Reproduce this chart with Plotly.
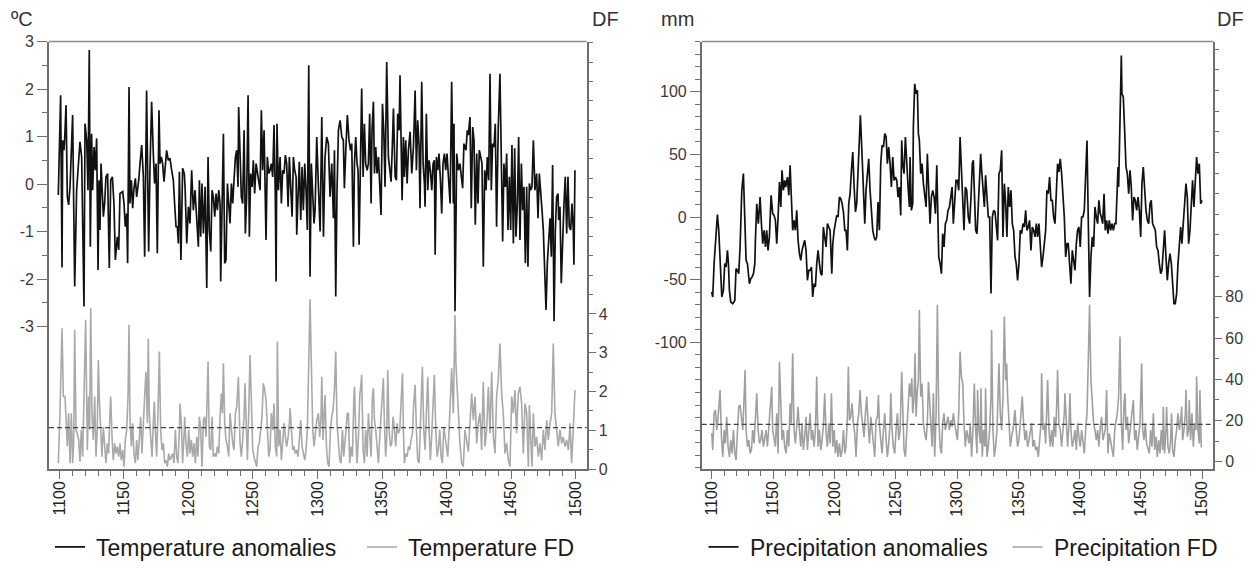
import plotly.graph_objects as go

# ---------------- data ----------------
temp_years = [
    1099.2,1101.0,1102.1,1102.6,1103.6,1104.1,1105.2,1106.2,1107.2,1108.3,
    1110.3,1111.9,1113.4,1114.7,1116.0,1117.3,1118.1,1119.1,1119.9,1121.2,
    1122.2,1123.2,1124.0,1125.0,1125.8,1126.9,1127.9,1128.9,1130.0,1130.7,
    1131.5,1132.3,1133.0,1134.1,1135.1,1136.1,1137.4,1138.7,1139.8,1141.1,
    1142.3,1143.4,1144.9,1146.0,1147.0,1149.1,1150.1,1151.1,1152.2,1152.9,
    1154.0,1154.7,1155.8,1156.8,1157.8,1158.9,1159.9,1161.5,1162.5,1163.8,
    1165.1,1166.1,1167.6,1168.7,1169.2,1170.2,1171.5,1172.8,1173.8,1174.9,
    1175.9,1177.2,1178.0,1179.0,1180.0,1181.1,1182.1,1183.1,1184.4,1185.7,
    1187.0,1188.3,1189.3,1190.4,1191.4,1192.2,1193.0,1194.2,1195.5,1196.8,
    1197.4,1198.7,1200.0,1201.2,1202.5,1203.8,1205.1,1206.4,1207.7,1208.5,
    1209.5,1210.5,1211.6,1212.9,1214.2,1215.2,1216.2,1217.3,1218.3,1219.3,
    1220.4,1221.4,1222.4,1223.5,1224.5,1225.0,1226.0,1227.1,1228.1,1229.1,
    1230.2,1231.2,1232.2,1233.3,1234.3,1235.3,1236.4,1237.4,1238.4,1238.9,
    1240.0,1241.0,1242.0,1243.1,1244.1,1245.1,1246.2,1247.2,1248.2,1249.3,
    1250.3,1251.3,1252.4,1253.4,1254.4,1255.5,1256.5,1257.5,1258.6,1259.6,
    1260.1,1261.1,1262.2,1263.2,1264.2,1265.3,1266.3,1267.3,1267.9,1268.6,
    1269.7,1271.0,1272.0,1273.0,1274.1,1275.1,1276.1,1277.2,1278.2,1279.2,
    1280.3,1281.3,1282.3,1283.4,1283.9,1284.9,1285.9,1287.0,1288.0,1289.0,
    1290.1,1291.1,1292.1,1293.2,1294.2,1295.2,1296.3,1297.3,
    1298.1,1299.4,1300.7,1302.0,1303.3,1304.6,1305.8,1307.1,1308.4,1309.7,
    1311.0,1312.3,1313.1,1314.1,1315.1,1316.2,1317.5,1318.8,1320.0,1320.8,
    1321.9,1323.1,1324.4,1325.5,1326.5,1327.8,1328.6,1329.6,1330.6,1331.4,
    1332.2,1333.0,1334.2,1335.3,1336.3,1337.3,1338.4,1339.4,1340.4,1341.5,
    1342.2,1343.3,1344.1,1345.1,1346.1,1347.2,1348.2,1349.2,1350.3,1351.3,
    1352.3,1353.6,1354.9,1355.9,1357.0,1358.0,1358.8,1360.1,1361.1,1362.1,
    1363.2,1363.9,1364.7,1365.5,1366.5,1367.3,1368.3,1369.4,1370.4,1371.7,
    1373.0,1374.3,1375.6,1376.6,1377.6,1378.7,1379.4,1380.7,1381.8,1382.8,
    1383.3,1384.3,1385.4,1386.4,1387.4,1388.5,1389.5,1390.5,1391.1,1392.1,
    1393.1,1394.1,1395.2,1396.2,1397.2,1398.3,1399.3,1400.3,1401.4,1402.7,
    1403.9,1405.2,1405.7,1406.5,1407.8,1409.1,1410.3,1411.6,1412.4,1413.4,
    1415.0,1416.0,1416.8,1418.1,1419.1,1420.2,1421.2,1422.2,1423.3,1424.3,
    1425.3,1426.4,1427.4,1428.4,1429.5,1430.5,1431.5,1432.6,1433.6,1434.6,
    1435.6,1436.7,1437.7,1438.7,1440.0,1441.3,1442.4,1443.4,1444.4,1445.5,
    1446.5,1447.5,1448.6,1449.6,1450.6,1451.7,1452.7,1453.7,1454.8,1455.8,
    1456.8,1457.9,1458.9,1459.9,1461.0,1462.0,1463.0,1464.1,1465.1,1466.1,
    1467.2,1468.4,1469.7,1470.8,1471.8,1472.8,1473.9,1474.9,1475.9,1477.0,
    1478.0,1479.0,1480.1,1481.1,1482.1,1483.2,1484.2,1485.2,1486.3,1486.8,
    1487.8,1488.8,1489.9,1490.9,1491.9,1493.0,1494.0,1495.0,1496.1,1497.1,
    1498.1,1498.6,1499.4,
]
temp_anom = [
    -0.23,1.87,-1.76,0.92,0.71,0.92,1.66,-0.27,-0.44,-0.06,
    1.45,-2.16,-0.13,0.43,0.89,0.57,-0.90,-2.58,1.27,0.92,
    -0.13,2.82,-1.32,1.06,-0.13,0.78,0.29,0.96,-1.81,0.08,
    -0.97,0.43,0.01,-0.69,-0.41,0.15,0.22,-1.77,0.08,0.15,
    -0.41,-1.60,-1.11,-1.39,-0.20,-0.16,-0.41,-0.90,-0.62,-1.67,
    2.04,-0.41,0.08,-0.51,-0.09,0.12,-0.27,0.08,0.43,0.82,
    0.15,-1.53,1.97,-0.27,-1.42,0.29,1.73,0.64,0.01,0.43,
    -1.46,1.55,0.43,0.57,0.43,0.05,0.50,0.71,0.50,0.54,
    0.29,0.08,-0.41,-0.90,-0.90,-1.25,0.26,-1.60,0.33,0.22,
    -0.06,-1.25,-0.48,-0.83,0.29,-0.55,-0.13,-0.69,-1.32,0.08,
    -1.11,0.01,-1.04,-0.06,-2.19,0.57,-0.97,-1.42,-0.13,-0.27,
    -0.69,-0.20,-0.55,-0.13,-0.41,-2.05,-0.06,1.06,-1.67,-1.60,
    0.01,-0.55,-0.83,0.01,-0.41,0.08,0.57,0.71,-0.06,1.62,
    0.57,-0.27,-0.41,1.13,-1.04,-0.27,1.87,-1.11,0.22,-0.06,
    0.50,-0.20,0.43,0.22,0.01,-0.13,1.55,0.29,1.13,-0.27,
    -1.18,0.57,0.22,0.29,0.43,0.15,1.24,-0.27,-2.05,1.27,
    -0.13,0.57,-0.41,0.29,0.22,0.61,0.43,-0.48,0.57,-0.06,
    -0.69,0.57,0.29,0.15,-1.07,-0.27,0.47,-0.76,0.36,-0.55,
    0.43,-0.13,-0.97,2.50,-1.95,0.43,-0.27,-0.83,
    -0.55,0.99,-0.06,-1.00,1.41,-1.11,0.57,0.99,0.85,-0.27,
    0.43,-0.72,0.71,-2.37,-0.13,1.13,1.34,0.99,0.92,-0.09,
    0.71,1.45,0.92,0.71,0.85,-1.32,0.43,0.99,0.43,0.29,
    -1.28,0.43,2.01,0.15,1.27,0.43,0.29,0.43,1.48,-0.41,
    1.13,1.73,0.22,0.78,0.22,0.57,0.08,-0.65,1.69,1.13,
    -0.06,2.57,0.57,0.29,0.05,0.85,1.59,0.15,0.08,1.48,
    1.13,2.29,0.29,-0.34,0.99,0.15,0.92,0.01,0.71,1.10,
    0.22,0.78,1.97,0.29,1.34,0.78,-0.51,2.15,0.43,0.01,
    -0.48,1.48,-0.13,0.50,0.29,-0.13,0.43,0.50,-1.49,0.57,
    0.29,0.64,0.08,-0.62,0.43,0.64,0.29,0.64,0.15,-0.41,
    2.15,-0.41,1.27,-2.68,0.64,0.29,0.43,0.01,-0.09,0.85,
    0.71,1.13,1.03,1.41,-0.51,1.20,0.92,-0.86,0.64,-0.41,
    0.71,0.57,0.43,-1.74,0.29,-0.13,0.57,0.08,2.32,-0.13,
    0.85,0.78,1.27,-0.90,1.20,2.32,-0.13,-1.21,0.43,-0.06,
    0.64,-0.97,0.15,-0.97,0.82,-1.25,0.75,-1.11,-0.41,0.99,
    -1.18,0.43,-0.55,-0.06,-1.67,-0.06,-1.74,0.01,-0.13,-0.06,
    0.92,-0.13,0.22,-0.72,0.22,-0.27,-0.55,-0.97,-1.67,-2.65,
    -1.67,-1.11,-0.72,-1.53,0.40,-2.89,-0.97,-0.27,-0.20,-0.76,
    -0.48,-2.09,-0.97,-0.41,0.15,-1.04,0.15,-0.90,-0.97,-0.41,
    -0.97,-1.70,0.29,
]

tfd_years = [
    1099.2,1100.5,1102.1,1103.1,1104.4,1105.2,1106.2,1107.2,1108.3,1109.3,
    1110.3,1111.1,1111.9,1112.9,1113.9,1115.0,1116.0,1117.0,1118.1,1119.1,
    1120.4,1121.7,1122.7,1123.5,1124.3,1125.3,1126.3,1127.4,1128.4,1129.4,
    1130.2,1131.0,1132.0,1133.0,1134.1,1135.1,1136.1,1137.2,1138.2,1139.2,
    1139.8,1140.8,1141.8,1142.9,1143.9,1144.9,1146.0,1147.0,1148.0,1149.1,
    1150.1,1151.1,1152.2,1153.2,1154.0,1154.7,1155.8,1156.8,1157.8,1158.9,
    1159.9,1160.9,1162.0,1163.0,1164.0,1165.1,1166.1,1167.1,1168.2,1168.9,
    1169.7,1170.7,1171.8,1172.8,1173.6,1174.4,1175.4,1176.4,1177.5,1178.5,
    1179.5,1180.6,1181.6,1182.6,1183.7,1184.7,1185.7,1186.8,1187.8,1188.8,
    1189.9,1190.9,1191.9,1193.0,1193.5,1194.5,1195.5,1196.8,
    1197.1,1198.1,1199.2,1200.2,1201.2,1202.3,1203.3,1204.3,1205.4,1206.4,
    1207.4,1208.5,1209.5,1210.5,1211.6,1212.6,1213.6,1214.4,1215.2,1216.2,
    1217.3,1218.3,1219.3,1220.4,1221.4,1222.4,1223.5,1224.5,1225.5,1226.3,
    1227.1,1228.1,1229.1,1230.2,1231.2,1232.2,1233.3,1234.3,1235.3,1236.4,
    1237.4,1238.7,1240.0,1241.0,1242.0,1243.1,1243.8,1244.6,1245.7,1246.7,
    1247.7,1248.8,1249.8,1250.8,1251.8,1252.9,1253.9,1254.9,1256.0,1257.0,
    1258.0,1259.1,1260.1,1261.1,1262.2,1263.2,1264.2,1265.3,1266.3,1267.3,
    1268.4,1268.9,1269.9,1271.0,1272.0,1273.0,1274.1,1275.1,1276.1,1277.2,
    1278.2,1278.7,1279.7,1280.8,1281.8,1282.8,1283.9,1284.9,1285.9,1287.0,
    1288.0,1289.0,1290.1,1291.1,1292.1,1293.2,1294.2,1295.2,1296.3,1297.3,
    1298.1,1299.4,1300.7,1301.7,1302.7,1303.3,1304.3,1305.3,1305.8,1306.9,
    1307.9,1308.9,1310.0,1311.0,1312.0,1313.1,1314.1,1315.1,1316.2,1317.2,
    1318.2,1319.3,1320.3,1321.3,1322.4,1323.1,1323.9,1324.9,1326.0,1327.0,
    1328.1,1328.6,1329.6,1330.6,1331.7,1332.7,1333.7,1334.2,1335.3,1336.3,
    1337.3,1338.4,1339.4,1340.4,1341.5,1342.5,1343.3,1344.1,1345.1,1346.1,
    1347.2,1348.2,1349.2,1350.3,1351.0,1351.8,1352.8,1353.6,1354.4,1355.4,
    1356.5,1357.5,1358.5,1359.6,1360.6,1361.6,1362.7,1363.7,1364.7,1365.8,
    1366.5,1367.3,1368.3,1369.4,1370.4,1371.4,1372.5,1373.5,1374.5,1375.6,
    1376.6,1377.6,1378.7,1379.7,1380.5,1381.2,1382.3,1383.3,1384.3,1385.4,
    1386.4,1387.4,1388.5,1389.5,1390.5,1391.6,1392.6,1393.6,1394.7,1395.7,
    1396.7,1397.8,1398.8,1399.8,1400.9,1401.9,1402.9,
    1403.9,1405.2,1406.5,1407.2,1408.3,1409.3,1410.3,1411.6,1412.9,1414.2,
    1415.5,1416.8,1418.1,1419.4,1420.7,1422.0,1423.3,1424.5,1425.8,1427.1,
    1428.4,1429.7,1431.0,1432.3,1433.6,1434.9,1436.2,1437.5,1438.7,1440.0,
    1441.3,1442.6,1443.9,1445.2,1446.5,1447.8,1449.1,1450.4,1451.7,1452.9,
    1454.2,1455.5,1456.8,1458.1,1459.4,1460.7,1462.0,1463.3,1464.1,1465.1,
    1466.1,1467.2,1468.4,1469.7,1471.0,1472.3,1473.6,1474.9,1476.2,1477.5,
    1478.8,1480.1,1481.4,1482.6,1483.9,1485.2,1486.5,1487.8,1489.1,1490.4,
    1491.7,1493.0,1494.3,1495.6,1496.8,1498.1,1499.4,
]
temp_fd = [
    0.15,1.44,3.63,1.87,1.87,1.35,0.58,1.44,0.15,1.44,
    0.15,0.66,3.59,1.01,0.92,0.75,0.19,1.01,0.32,1.87,
    3.85,0.49,1.87,1.01,4.15,1.44,0.75,1.87,0.32,1.01,
    2.81,1.78,1.01,0.32,1.09,0.49,0.15,0.66,0.40,1.44,
    1.87,0.83,0.23,0.66,0.40,0.58,0.32,0.66,0.23,0.49,
    0.06,0.75,1.01,1.87,3.72,1.35,0.58,1.18,0.40,0.15,
    0.75,0.23,1.01,1.35,0.40,1.01,1.87,2.51,1.18,3.37,
    1.44,0.83,0.32,1.18,1.74,1.01,0.32,1.44,3.03,1.01,
    0.49,0.66,0.15,0.23,0.06,0.40,0.23,0.32,0.40,0.15,
    1.01,0.32,0.15,1.01,1.69,1.18,0.15,1.01,
    1.35,0.66,0.32,1.01,0.40,0.75,0.32,0.66,0.15,0.83,
    0.32,1.35,1.01,0.06,1.26,1.35,0.83,1.69,2.77,0.58,
    0.49,1.35,0.32,0.40,0.32,0.58,0.40,1.35,1.95,1.44,
    2.73,1.18,0.75,0.58,0.32,1.44,1.01,0.66,0.49,1.44,
    1.61,2.38,0.66,0.32,0.75,1.35,2.21,1.01,0.23,1.44,
    2.94,1.69,0.49,0.32,0.15,0.06,0.58,0.66,1.01,1.35,
    2.21,2.04,1.78,1.01,0.32,0.49,1.44,1.01,1.69,0.58,
    0.32,3.29,0.58,1.01,0.23,0.66,1.18,0.83,0.58,0.83,
    1.18,1.57,1.01,0.49,0.58,0.40,0.49,0.32,0.75,1.26,
    0.58,0.40,0.23,0.49,1.01,2.73,4.38,2.73,1.01,0.58,
    0.92,1.26,1.44,0.83,1.35,2.38,0.75,1.35,1.91,0.58,
    0.15,0.06,1.01,1.35,1.52,2.04,3.03,1.18,0.58,0.23,
    0.15,1.01,0.32,0.75,1.01,1.44,1.44,0.15,0.58,0.32,
    1.78,2.12,1.01,0.15,0.83,1.87,2.21,2.43,0.49,0.15,
    1.01,0.32,1.44,1.01,0.32,1.87,2.08,1.26,1.01,0.58,
    0.15,0.83,1.35,1.87,2.34,1.18,0.32,0.83,2.55,1.01,
    0.58,0.66,1.35,1.01,0.58,1.18,0.92,1.01,1.87,2.47,
    1.01,0.15,0.40,0.32,0.58,0.49,0.75,0.92,1.69,2.17,
    1.01,0.23,0.15,1.44,2.30,2.64,1.01,0.49,1.44,2.38,
    1.01,0.23,0.92,1.69,2.43,1.01,0.32,0.49,1.01,0.32,
    0.15,1.09,0.83,0.49,0.32,1.01,1.87,
    2.60,1.44,3.97,2.73,1.95,1.18,0.66,0.15,0.06,1.01,
    0.66,0.45,1.18,1.95,1.26,1.87,0.66,1.18,1.44,0.49,
    2.25,0.58,1.01,2.12,0.92,2.51,0.83,0.40,1.87,2.30,
    3.24,1.95,1.44,0.40,0.66,0.23,0.06,1.87,1.44,2.04,
    0.92,1.95,2.12,1.69,0.40,1.69,1.44,0.06,1.65,1.01,
    0.06,1.44,0.58,0.83,0.32,0.66,0.23,1.01,0.49,1.26,
    0.75,1.18,1.44,3.24,1.44,1.01,0.58,1.01,0.66,0.83,
    0.58,0.75,0.49,1.18,0.15,1.01,2.04,
]

prec_years = [
    1100.0,1100.8,1101.9,1103.5,1104.6,1105.7,1106.8,1108.2,1109.5,1110.6,
    1111.7,1112.8,1113.6,1114.4,1115.5,1117.1,1118.8,1119.8,1120.9,1122.0,
    1123.1,1124.5,1125.8,1126.9,1128.0,1129.1,1130.7,1131.8,1132.9,1134.0,
    1135.1,1135.6,1136.7,1138.0,1139.4,1140.5,1141.6,1142.7,1143.8,1144.8,
    1145.9,1147.0,1148.4,1149.7,1150.8,1151.9,1153.0,1154.1,1155.2,1156.3,
    1157.3,1158.4,1159.5,1160.3,1161.7,1162.8,1163.9,1164.9,1166.0,1167.1,
    1168.2,1169.3,1170.4,1171.5,1172.6,1173.6,1174.7,1175.8,1176.9,1178.0,
    1179.1,1180.2,1181.3,1182.3,1183.4,1184.5,1185.6,1186.7,1187.8,1188.9,
    1189.9,1191.0,1192.1,1193.2,1194.3,1195.4,1196.5,
    1197.9,1198.7,1199.8,1200.8,1201.9,1203.0,1204.1,1205.2,1206.3,1207.4,
    1208.5,1209.5,1210.6,1211.7,1212.8,1213.9,1215.0,1216.1,1217.2,1218.2,
    1219.3,1220.4,1221.2,1222.3,1223.7,1224.8,1225.8,1226.9,1228.0,1229.1,
    1230.2,1231.3,1232.4,1233.5,1234.5,1235.6,1236.7,1237.8,1238.9,1240.0,
    1241.1,1242.2,1243.2,1244.3,1245.4,1246.5,1247.6,1248.7,1249.8,1250.9,
    1251.9,1253.0,1254.1,1254.9,1255.7,1256.8,1257.9,1259.0,1260.1,1261.2,
    1261.7,1262.8,1263.9,1264.4,1265.5,1266.6,1267.7,1268.5,1269.3,1270.4,
    1271.5,1272.6,1273.7,1274.8,1275.8,1276.9,1278.0,1279.1,1280.2,1281.3,
    1282.4,1283.5,1284.5,1285.1,1286.2,1287.3,1288.3,1289.4,1290.5,1291.6,
    1292.7,1293.8,1294.9,1296.0,1297.0,1298.1,1299.2,1300.3,1301.4,1302.5,
    1303.6,1304.7,1305.7,1306.8,1307.9,
    1309.2,1310.3,1311.4,1312.5,1313.3,1314.1,1315.2,1316.3,1317.4,1318.5,
    1319.3,1320.1,1321.2,1322.3,1323.3,1324.4,1325.5,1326.6,1327.7,1328.8,
    1329.9,1331.0,1332.0,1333.1,1334.2,1335.3,1336.4,1337.5,1338.6,1339.7,
    1340.7,1341.8,1342.9,1344.0,1345.1,1346.2,1347.3,1348.3,1349.4,1350.5,
    1351.6,1352.7,1353.8,1354.9,1356.0,1357.0,1358.1,1359.2,1360.3,1361.4,
    1362.5,1363.6,1364.7,1365.7,1366.8,1367.9,1369.0,1370.1,1371.2,1372.3,
    1373.3,1374.4,1375.5,1376.6,1377.7,1378.8,1379.9,1380.9,1382.0,1383.1,
    1384.2,1385.3,1386.4,1387.5,1388.6,1389.7,1390.7,1391.8,1392.9,1394.0,
    1395.1,1396.2,1397.3,1398.3,1399.4,1400.5,1401.6,1402.7,1403.8,1404.9,
    1406.0,1407.0,1408.1,1409.2,1410.3,1411.4,1412.5,1413.6,1414.7,1415.7,
    1416.8,
    1417.7,1418.8,1419.9,1420.9,1422.0,1423.1,1424.2,1425.3,1426.4,1427.5,
    1428.6,1429.6,1430.7,1431.3,1431.8,1432.9,1434.0,1434.5,1435.6,1436.7,
    1437.8,1438.9,1440.0,1441.1,1442.1,1443.2,1444.3,1445.4,1446.5,1447.6,
    1448.7,1449.8,1450.8,1451.9,1453.0,1454.1,1455.2,1456.3,1457.4,1458.4,
    1459.5,1460.6,1461.7,1462.8,1463.9,1465.0,1466.1,1467.1,1468.2,1469.3,
    1470.4,1471.5,1472.6,1473.7,1474.8,1475.8,1476.9,1478.0,1479.1,1480.2,
    1481.3,1482.4,1483.4,1484.5,1485.6,1486.7,1487.8,1488.9,1490.0,1491.1,
    1492.1,1493.2,1494.3,1495.4,1496.5,1497.6,1498.7,1499.8,
]
prec_anom = [
    -59.8,-63.8,-37.2,-10.6,1.9,-10.6,-37.2,-63.8,-58.5,-37.2,
    -39.9,-26.6,-37.2,-58.5,-67.8,-69.1,-66.5,-41.2,-42.5,-45.2,
    -23.9,21.3,34.6,0.0,-34.6,-37.2,-53.2,-49.2,-47.8,-45.2,
    -37.2,-18.6,10.6,-5.3,15.9,-5.3,-21.3,-10.6,-23.9,-10.6,
    -26.6,-15.9,17.3,2.7,1.3,-2.7,-21.3,0.0,27.9,8.0,
    37.2,21.3,29.2,23.9,31.9,17.3,41.2,15.9,-10.6,-2.7,
    -10.6,5.3,-18.6,-29.2,-34.6,-26.6,-22.6,-18.6,-26.6,-50.5,
    -42.5,-42.5,-39.9,-63.8,-53.2,-55.8,-37.2,-26.6,-37.2,-45.2,
    -46.5,-8.0,-15.9,-23.9,-5.3,-8.0,-10.6,
    -45.2,-21.3,-10.6,-5.3,1.3,0.0,15.9,14.6,10.6,4.0,
    -10.6,-10.6,-26.6,10.6,18.6,37.2,51.8,23.9,4.0,10.6,
    37.2,61.1,81.1,55.8,26.6,-5.3,21.3,37.2,46.5,21.3,
    0.0,-10.6,-15.9,-18.6,-15.9,12.0,-10.6,42.5,57.2,55.8,
    66.5,63.8,42.5,55.8,42.5,23.9,47.8,29.2,31.9,29.2,
    15.9,23.9,1.3,61.1,42.5,34.6,63.8,39.9,23.9,8.0,
    47.8,5.3,10.6,71.8,106.3,98.4,101.0,66.5,61.1,34.6,
    42.5,26.6,15.9,8.0,50.5,26.6,-5.3,15.9,21.3,15.9,
    2.7,41.2,-5.3,-31.9,-37.2,-45.2,-13.3,-23.9,-5.3,-2.7,
    5.3,8.0,15.9,23.9,-5.3,15.9,29.2,29.2,21.3,63.8,
    37.2,10.6,-10.6,23.9,21.3,
    0.0,-5.3,15.9,42.5,45.2,21.3,-10.6,-13.3,10.6,34.6,
    50.5,37.2,21.3,8.0,33.2,15.9,0.0,0.0,-61.1,0.0,
    5.3,4.0,-10.6,-18.6,34.6,37.2,53.2,-15.9,26.6,10.6,
    -15.9,23.9,8.0,21.3,-5.3,-10.6,-31.9,-37.2,-50.5,-37.2,
    -10.6,-13.3,-5.3,-8.0,5.3,-10.6,-8.0,-2.7,-26.6,-8.0,
    -10.6,-15.9,-5.3,-15.9,-5.3,-23.9,-39.9,-31.9,-18.6,-10.6,
    21.3,18.6,31.9,13.3,13.3,0.0,-5.3,21.3,42.5,35.9,
    46.5,34.6,15.9,0.0,-31.9,-21.3,-21.3,-37.2,-53.2,-26.6,
    -37.2,-42.5,-21.3,-10.6,-8.0,-23.9,0.0,0.0,5.3,29.2,
    61.1,0.0,-63.8,-31.9,-15.9,-23.9,8.0,0.0,-5.3,13.3,
    2.7,
    0.0,-5.3,18.6,-10.6,-2.7,-13.3,-2.7,-10.6,-5.3,-10.6,
    -5.3,-5.3,23.9,39.9,23.9,69.1,128.9,98.4,95.7,69.1,
    39.9,34.6,18.6,37.2,23.9,-2.7,15.9,13.3,5.3,15.9,
    5.3,-15.9,26.6,39.9,21.3,5.3,-2.7,-5.3,10.6,13.3,
    -5.3,-8.0,-10.6,-23.9,-26.6,-37.2,-45.2,-42.5,-21.3,-10.6,
    -31.9,-50.5,-37.2,-29.2,-37.2,-53.2,-69.1,-69.1,-61.1,-37.2,
    -21.3,-8.0,-21.3,0.0,10.6,26.6,15.9,-21.3,-10.6,10.6,
    29.2,8.0,26.6,47.8,34.6,42.5,10.6,13.3,
]

pfd_years = [
    1100.0,1100.8,1101.9,1103.0,1104.1,1105.2,1106.8,1107.9,1109.0,1110.1,
    1111.1,1112.2,1113.3,1114.4,1115.5,1116.6,1117.7,1118.8,1119.8,1120.9,
    1122.0,1123.1,1124.2,1125.3,1126.4,1127.2,1128.0,1129.1,1130.2,1131.3,
    1132.3,1133.4,1134.5,1135.6,1136.7,1137.8,1138.9,1139.9,1141.0,1142.1,
    1143.2,1144.3,1145.4,1146.5,1147.6,1148.9,1149.7,1150.8,1151.9,1153.0,
    1154.1,1155.2,1156.3,1157.3,1158.4,1159.5,1160.6,1161.7,1162.8,1163.9,
    1164.9,1166.0,1167.1,1168.2,1169.3,1170.4,1171.5,1172.6,1173.6,1174.7,
    1175.8,1176.9,1178.0,1179.1,1180.2,1181.3,1182.3,1183.4,1184.5,1185.6,
    1186.7,1187.8,1188.9,1189.9,1191.0,1192.1,1193.2,1194.3,1195.4,1196.5,
    1197.6,1198.7,1199.8,1200.8,1201.9,1203.0,1204.1,1205.2,1206.3,1207.4,
    1208.5,1209.5,1210.6,1211.4,1212.3,1213.3,1214.4,1215.5,1216.6,1217.7,
    1218.8,1219.9,1221.0,1222.0,1223.1,1224.2,1225.3,1226.4,1227.5,1228.6,
    1229.7,1230.7,1231.8,1232.9,1234.0,1235.1,1235.9,1236.7,1237.8,1238.9,
    1240.0,1241.1,1242.2,1243.2,1244.3,1245.4,1246.0,1247.0,1248.1,1249.2,
    1250.3,1251.4,1252.5,1253.6,1254.9,1255.7,1256.8,1257.9,1259.0,1260.1,
    1261.2,1262.3,1263.1,1263.9,1265.0,1265.8,1266.6,1267.7,1268.5,1269.3,
    1270.4,1271.5,1272.6,1273.7,1274.8,1275.8,1276.7,1277.5,1278.6,1279.7,
    1280.7,1281.8,1282.9,1284.0,1285.1,1286.2,1287.3,1288.3,1289.4,1290.5,
    1291.6,1292.7,1293.8,1294.9,1296.0,1297.0,1298.1,1299.2,1300.3,1301.4,
    1302.5,1303.6,1304.7,1305.7,1306.8,1307.9,1309.3,
    1309.8,1310.8,1311.9,1313.0,1314.1,1315.2,1316.3,1316.8,1317.9,1319.0,
    1319.5,1320.6,1321.7,1322.8,1323.3,1324.4,1325.5,1326.6,1327.7,1328.2,
    1329.3,1330.4,1331.5,1332.6,1333.7,1334.2,1335.3,1336.4,1337.5,1338.6,
    1339.7,1340.5,1341.3,1342.4,1343.5,1344.5,1345.6,1346.7,1347.3,1348.3,
    1349.4,1350.5,1351.6,1352.7,1353.2,1354.3,1355.4,1356.5,1357.6,1358.7,
    1359.8,1360.8,1361.9,1363.0,1364.1,1365.2,1366.3,1367.4,1368.5,1369.0,
    1370.1,1371.2,1372.3,1373.3,1373.9,1375.0,1376.1,1377.2,1378.2,1379.3,
    1380.4,1381.5,1382.0,1383.1,1384.2,1385.3,1386.4,1387.5,1388.0,1389.1,
    1390.2,1391.3,1392.1,1392.9,1394.0,1395.1,1396.2,1397.3,1398.3,1399.4,
    1400.5,1401.6,1402.7,1403.8,1404.9,1406.0,1407.0,1408.1,1409.2,1410.3,
    1411.4,1412.5,1413.6,1414.7,1415.7,1416.8,1417.9,1419.0,
    1420.9,1422.0,1423.1,1424.2,1425.3,1426.4,1427.5,1428.6,1429.6,1430.7,
    1431.8,1432.9,1434.0,1435.1,1436.2,1437.0,1437.8,1438.9,1440.0,1441.1,
    1442.1,1443.2,1443.8,1444.9,1446.0,1447.0,1448.1,1449.2,1450.6,1451.4,
    1452.5,1453.6,1454.6,1455.7,1456.8,1457.9,1459.0,1460.1,1461.2,1462.3,
    1463.3,1464.4,1465.5,1466.6,1467.7,1468.2,1469.3,1470.4,1470.9,1472.0,
    1473.1,1474.2,1475.0,1475.8,1476.9,1478.0,1479.1,1480.2,1481.3,1482.4,
    1483.2,1484.0,1485.1,1486.2,1486.7,1487.8,1488.9,1489.4,1490.5,1491.6,
    1492.7,1493.8,1494.9,1495.4,1496.5,1497.6,1498.1,1499.2,1499.8,
]
prec_fd = [
    13.8,5.7,23.5,25.1,15.4,21.8,34.8,12.1,2.4,15.4,
    8.9,21.8,7.3,2.4,10.5,4.0,15.4,4.0,0.8,18.6,
    26.7,27.5,20.2,15.4,31.6,44.5,15.4,7.3,10.5,4.0,
    5.7,15.4,8.9,23.5,33.2,15.4,8.9,10.5,15.4,7.3,
    10.5,15.4,7.3,15.4,23.5,36.4,15.4,10.5,7.3,23.5,
    4.0,48.5,23.5,10.5,15.4,7.3,4.0,15.4,7.3,28.3,
    18.6,52.6,15.4,8.9,17.0,26.7,15.4,7.3,18.6,5.7,
    12.1,21.8,5.7,15.4,23.5,10.5,15.4,7.3,15.4,41.3,
    7.3,15.4,5.7,10.5,17.0,33.2,13.8,7.3,18.6,8.9,
    33.2,7.3,15.4,4.0,10.5,2.4,8.9,2.4,5.7,15.4,
    4.0,7.3,21.8,46.1,20.2,21.8,28.3,18.6,13.8,2.4,
    18.6,23.5,34.8,23.5,18.6,12.1,23.5,31.6,18.6,8.9,
    21.8,15.4,7.3,2.4,20.2,21.8,32.4,18.6,10.5,4.0,
    15.4,23.5,10.5,2.4,8.9,18.6,33.2,15.4,7.3,4.0,
    15.4,23.5,10.5,15.4,43.7,23.5,5.7,2.4,15.4,31.6,
    38.0,31.6,40.5,23.5,31.6,52.6,21.8,34.8,39.6,73.6,
    31.6,38.0,18.6,13.8,10.5,18.6,38.8,31.6,15.4,7.3,
    33.2,2.4,21.8,76.1,21.8,7.3,4.0,18.6,23.5,15.4,
    18.6,21.8,15.4,20.2,17.0,23.5,18.6,15.4,10.5,23.5,
    53.4,41.3,38.0,18.6,7.3,15.4,10.5,
    8.9,18.6,2.4,15.4,38.0,15.4,4.0,34.8,15.4,8.9,
    35.6,2.4,15.4,7.3,35.6,2.4,7.3,15.4,31.6,63.9,
    15.4,2.4,7.3,15.4,31.6,47.7,23.5,15.4,31.6,70.4,
    39.6,47.7,31.6,15.4,7.3,12.1,15.4,21.8,25.1,15.4,
    7.3,10.5,18.6,28.3,31.6,18.6,10.5,15.4,7.3,10.5,
    15.4,18.6,7.3,10.5,5.7,7.3,2.4,10.5,18.6,42.9,
    15.4,18.6,8.9,28.3,39.6,15.4,7.3,15.4,7.3,21.8,
    12.1,31.6,44.5,18.6,15.4,7.3,15.4,23.5,33.2,15.4,
    7.3,18.6,33.2,15.4,7.3,10.5,15.4,5.7,18.6,12.1,
    7.3,15.4,10.5,4.0,15.4,23.5,47.7,76.1,39.6,28.3,
    18.6,15.4,10.5,15.4,7.3,17.0,21.8,10.5,
    15.4,34.8,4.0,13.8,10.5,5.7,2.4,15.4,18.6,23.5,
    31.6,60.7,18.6,5.7,28.3,33.2,15.4,21.8,8.9,15.4,
    18.6,26.7,29.9,10.5,15.4,5.7,12.1,18.6,47.7,15.4,
    10.5,18.6,8.9,5.7,4.0,15.4,7.3,23.5,5.7,12.1,
    2.4,10.5,4.0,15.4,5.7,26.7,4.0,15.4,26.7,7.3,
    4.0,10.5,23.5,5.7,2.4,10.5,15.4,23.5,15.4,20.2,
    26.7,10.5,15.4,23.5,34.8,12.1,15.4,29.9,10.5,23.5,
    7.3,18.6,15.4,41.3,15.4,8.9,34.8,7.3,7.3,
]

temp_fd_threshold = 1.07
prec_fd_threshold = 18.1

x_ticks = [1100, 1150, 1200, 1250, 1300, 1350, 1400, 1450, 1500]
temp_ticks = [-3, -2, -1, 0, 1, 2, 3]
tfd_ticks = [0, 1, 2, 3, 4]
prec_ticks = [-100, -50, 0, 50, 100]
pfd_ticks = [0, 20, 40, 60, 80]

assert len(temp_years) == len(temp_anom), (len(temp_years), len(temp_anom))
assert len(tfd_years) == len(temp_fd), (len(tfd_years), len(temp_fd))
assert len(prec_years) == len(prec_anom), (len(prec_years), len(prec_anom))
assert len(pfd_years) == len(prec_fd), (len(pfd_years), len(prec_fd))

# ---------------- styling ----------------
# the page body has an 8px default margin, so the figure is sized to fit the
# 1251x576 window and positions (in window pixels) are converted accordingly
PAGE_OFF = 8
W, H = 1251 - PAGE_OFF, 576 - PAGE_OFF
FONT = "Arial, Liberation Sans, sans-serif"
AX = "#6e6e6e"
TXT = "#3a3a3a"
BLACK = "#111111"
GRAY1 = "#a9a9a9"
GRAY2 = "#a0a0a0"

def px_x(p):
    return (p - PAGE_OFF) / W

def px_y(p):
    return 1 - (p - PAGE_OFF) / H

y_dom = [px_y(469), px_y(41.5)]

def frange(a, b, s):
    out = []
    v = a
    while v <= b + 1e-9:
        out.append(round(v, 6))
        v += s
    return out

fig = go.Figure()

fig.add_trace(go.Scatter(x=tfd_years, y=temp_fd, xaxis="x", yaxis="y2", mode="lines",
                         line=dict(color=GRAY1, width=1.6), name=" Temperature FD", legend="legend2"))
fig.add_trace(go.Scatter(x=temp_years, y=temp_anom, xaxis="x", yaxis="y", mode="lines",
                         line=dict(color=BLACK, width=1.7), name=" Temperature anomalies", legend="legend"))
fig.add_trace(go.Scatter(x=pfd_years, y=prec_fd, xaxis="x2", yaxis="y4", mode="lines",
                         line=dict(color=GRAY2, width=1.6), name=" Precipitation FD", legend="legend4"))
fig.add_trace(go.Scatter(x=prec_years, y=prec_anom, xaxis="x2", yaxis="y3", mode="lines",
                         line=dict(color=BLACK, width=1.7), name=" Precipitation anomalies", legend="legend3"))

common_axis = dict(showgrid=False, zeroline=False, showline=True, linecolor=AX, linewidth=1.6,
                   ticks="outside", ticklen=10, tickwidth=1.2, tickcolor=AX, automargin=False,
                   tickfont=dict(family=FONT, size=16, color=TXT), tickmode="array")

def minor(vals, ln=5):
    return dict(tickmode="array", tickvals=vals, ticks="outside", ticklen=ln, tickcolor=AX, tickwidth=1)

x_minor = [v for v in range(1100, 1510, 10) if v % 50 != 0]
xa = dict(common_axis, tickvals=x_ticks, ticktext=[str(v) for v in x_ticks], tickangle=-90,
          ticklen=8, ticklabelstandoff=-4,
          tickfont=dict(family=FONT, size=16, color="#222222"), minor=minor(x_minor, 5))

layout = dict(
    width=W, height=H, margin=dict(l=0, r=0, t=0, b=0, autoexpand=False),
    paper_bgcolor="white", plot_bgcolor="white",
    font=dict(family=FONT, color=TXT),
    xaxis=dict(xa, domain=[px_x(49), px_x(586.7)], range=[1092, 1508.5], anchor="y"),
    xaxis2=dict(xa, domain=[px_x(701.7), px_x(1213.3)], range=[1091.8, 1509], anchor="y3"),
    yaxis=dict(common_axis, domain=y_dom, range=[-6, 3], anchor="x",
               tickvals=temp_ticks, ticktext=[str(v) for v in temp_ticks],
               minor=minor([v for v in frange(-3, 3, 0.5) if v != int(v)])),
    yaxis2=dict(common_axis, domain=y_dom, range=[0, 11.03], anchor="x", overlaying="y", side="right",
                ticklen=7, tickvals=tfd_ticks, ticktext=[str(v) for v in tfd_ticks],
                minor=minor([v for v in frange(0.5, 11, 0.5) if not (v == int(v) and v <= 4)], 4)),
    yaxis3=dict(common_axis, domain=y_dom, range=[-201, 140], anchor="x2",
                tickvals=prec_ticks, ticktext=[str(v) for v in prec_ticks],
                minor=minor([v for v in range(-200, 141, 10) if v not in prec_ticks])),
    yaxis4=dict(common_axis, domain=y_dom, range=[-3.5, 203.8], anchor="x2", overlaying="y3", side="right",
                ticklen=7, tickvals=pfd_ticks, ticktext=[str(v) for v in pfd_ticks],
                minor=minor([v for v in range(10, 201, 10) if v not in pfd_ticks], 4)),
)

leg_common = dict(orientation="h", yanchor="middle", y=px_y(547), xanchor="left",
                  bgcolor="rgba(0,0,0,0)", font=dict(family=FONT, size=23, color="#1a1a1a"),
                  itemwidth=30, tracegroupgap=0)
layout["legend"] = dict(leg_common, x=px_x(50))
layout["legend2"] = dict(leg_common, x=px_x(362))
layout["legend3"] = dict(leg_common, x=px_x(703.5))
layout["legend4"] = dict(leg_common, x=px_x(1007.5))
layout["showlegend"] = True

shapes = [
    dict(type="line", xref="x domain", yref="y domain", x0=0, x1=1, y0=1, y1=1,
         line=dict(color="#8a8a8a", width=1.5)),
    dict(type="line", xref="x2 domain", yref="y3 domain", x0=0, x1=1, y0=1, y1=1,
         line=dict(color="#8a8a8a", width=1.5)),
    dict(type="line", xref="x domain", yref="y2", x0=0, x1=1,
         y0=temp_fd_threshold, y1=temp_fd_threshold, line=dict(color="#444444", width=1.3, dash="5px,3px")),
    dict(type="line", xref="x2 domain", yref="y4", x0=0, x1=1,
         y0=prec_fd_threshold, y1=prec_fd_threshold, line=dict(color="#444444", width=1.3, dash="5px,3px")),
]
layout["shapes"] = shapes

ann_font = dict(family=FONT, size=20, color="#333333")
layout["annotations"] = [
    dict(text="ºC", xref="paper", yref="paper", x=px_x(9), y=px_y(19), xanchor="left", yanchor="middle",
         showarrow=False, font=ann_font),
    dict(text="DF", xref="paper", yref="paper", x=px_x(590), y=px_y(19), xanchor="left", yanchor="middle",
         showarrow=False, font=ann_font),
    dict(text="mm", xref="paper", yref="paper", x=px_x(659), y=px_y(19), xanchor="left", yanchor="middle",
         showarrow=False, font=ann_font),
    dict(text="DF", xref="paper", yref="paper", x=px_x(1215), y=px_y(19), xanchor="left", yanchor="middle",
         showarrow=False, font=ann_font),
]

fig.update_layout(**layout)
fig.write_html("out.html")
